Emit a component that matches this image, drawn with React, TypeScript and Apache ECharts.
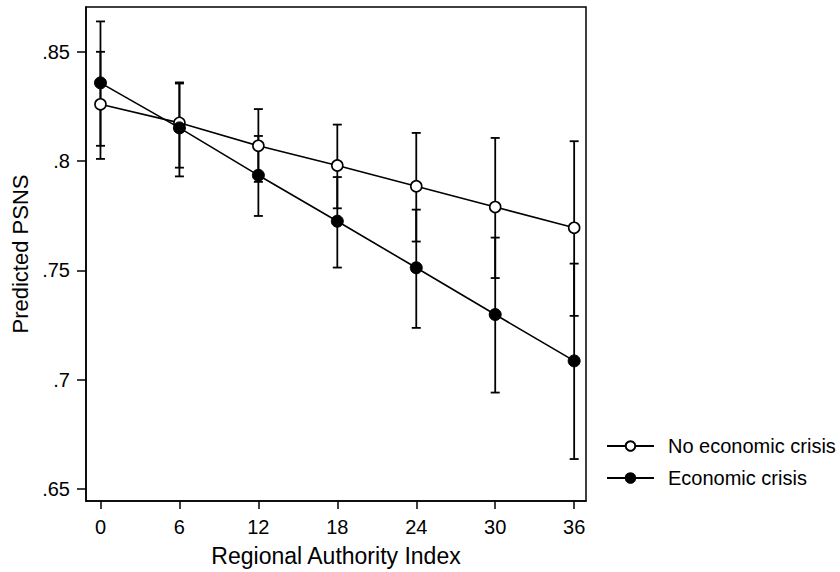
import React, { useEffect, useRef } from "react";
import * as echarts from "echarts";

const raiValues = [0, 6, 12, 18, 24, 30, 36];
const noCrisis = [0.826, 0.8175, 0.807, 0.798, 0.7885, 0.779, 0.7695];
const noCrisisLow = [0.801, 0.797, 0.7905, 0.7784, 0.7632, 0.7465, 0.7292];
const noCrisisHigh = [0.85, 0.836, 0.8238, 0.8167, 0.8129, 0.8106, 0.8091];
const crisis = [0.8358, 0.8152, 0.7935, 0.7725, 0.7512, 0.7298, 0.7086];
const crisisLow = [0.807, 0.793, 0.7749, 0.7513, 0.7237, 0.6941, 0.6637];
const crisisHigh = [0.8639, 0.8355, 0.8115, 0.7927, 0.7778, 0.765, 0.7531];
const yTicks = [0.65, 0.7, 0.75, 0.8, 0.85];
const xTicks = [0, 6, 12, 18, 24, 30, 36];
const seriesNames = ["No economic crisis", "Economic crisis"];

const FONT = "'Liberation Sans', Arial, Helvetica, sans-serif";

function errorBarSeries(name: string, low: number[], high: number[]) {
  return {
    type: "custom",
    name: name + " CI",
    z: 1,
    silent: true,
    data: raiValues.map((x, i) => [x, low[i], high[i]]),
    renderItem: (params: any, api: any) => {
      const x = api.value(0);
      const lo = api.coord([x, api.value(1)]);
      const hi = api.coord([x, api.value(2)]);
      const hw = 4.5;
      const style = { stroke: "#000", lineWidth: 1.8 };
      return {
        type: "group",
        children: [
          { type: "line", shape: { x1: lo[0], y1: lo[1], x2: hi[0], y2: hi[1] }, style },
          { type: "line", shape: { x1: lo[0] - hw, y1: lo[1], x2: lo[0] + hw, y2: lo[1] }, style },
          { type: "line", shape: { x1: hi[0] - hw, y1: hi[1], x2: hi[0] + hw, y2: hi[1] }, style },
        ],
      };
    },
  };
}

export default function App() {
  const ref = useRef<HTMLDivElement>(null);
  useEffect(() => {
    document.body.style.margin = "0";
    const chart = echarts.init(ref.current!, undefined, { renderer: "svg" });
    chart.setOption({
      animation: false,
      backgroundColor: "#fff",
      textStyle: { fontFamily: FONT },
      grid: {
        left: 86,
        right: 254,
        top: 7,
        bottom: 69,
        show: true,
        borderColor: "#000",
        borderWidth: 1.5,
        backgroundColor: "transparent",
      },
      legend: {
        orient: "vertical",
        left: 606,
        top: 436,
        padding: 0,
        itemWidth: 47,
        itemHeight: 12,
        itemGap: 12,
        data: seriesNames,
        textStyle: { fontFamily: FONT, fontSize: 20, color: "#000", padding: [0, 0, 0, 9] },
      },
      xAxis: {
        type: "value",
        min: -1.1,
        max: 36.9,
        name: "Regional Authority Index",
        nameLocation: "middle",
        nameGap: 43,
        nameTextStyle: { fontFamily: FONT, fontSize: 23, color: "#000" },
        axisLine: { show: true, onZero: false, lineStyle: { color: "#000", width: 1.5 } },
        axisTick: { show: true, length: 8, customValues: xTicks, lineStyle: { color: "#000", width: 1.5 } },
        axisLabel: {
          customValues: xTicks,
          fontFamily: FONT,
          fontSize: 20,
          color: "#000",
          margin: 16,
        },
        splitLine: { show: false },
      },
      yAxis: {
        type: "value",
        min: 0.6445,
        max: 0.8705,
        name: "Predicted PSNS",
        nameLocation: "middle",
        nameGap: 53,
        nameTextStyle: { fontFamily: FONT, fontSize: 22, color: "#000" },
        axisLine: { show: true, onZero: false, lineStyle: { color: "#000", width: 1.5 } },
        axisTick: { show: true, length: 9, customValues: yTicks, lineStyle: { color: "#000", width: 1.5 } },
        axisLabel: {
          customValues: yTicks,
          fontFamily: FONT,
          fontSize: 20,
          color: "#000",
          margin: 16,
          formatter: (v: number) => String(Math.round(v * 100) / 100).replace(/^0\./, "."),
        },
        splitLine: { show: false },
      },
      series: [
        errorBarSeries(seriesNames[0], noCrisisLow, noCrisisHigh),
        errorBarSeries(seriesNames[1], crisisLow, crisisHigh),
        {
          type: "line",
          name: seriesNames[0],
          z: 3,
          data: raiValues.map((x, i) => [x, noCrisis[i]]),
          symbol: "circle",
          symbolSize: 11,
          showAllSymbol: true,
          lineStyle: { color: "#000", width: 1.6 },
          itemStyle: { color: "#fff", borderColor: "#000", borderWidth: 1.6 },
        },
        {
          type: "line",
          name: seriesNames[1],
          z: 3,
          data: raiValues.map((x, i) => [x, crisis[i]]),
          symbol: "circle",
          symbolSize: 12,
          showAllSymbol: true,
          lineStyle: { color: "#000", width: 1.6 },
          itemStyle: { color: "#000", borderColor: "#000", borderWidth: 1 },
        },
      ],
    });
    return () => chart.dispose();
  }, []);
  return <div ref={ref} style={{ width: 840, height: 572 }} />;
}
